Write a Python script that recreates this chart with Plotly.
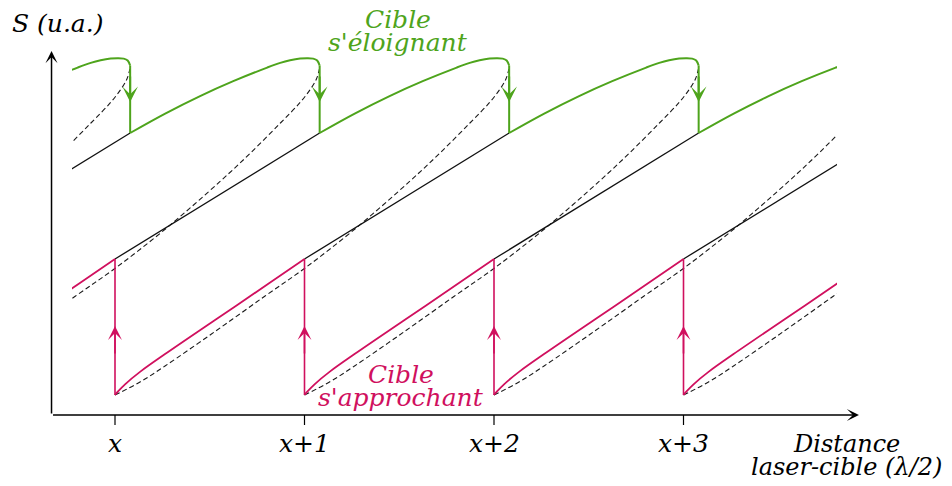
import plotly.graph_objects as go

# ===== DONNÉES =====
# graduations de l'axe des distances (unité : λ/2)
ticks = [0, 1, 2, 3]
tick_labels = ["x", "x+1", "x+2", "x+3"]
# départ de chaque branche (une par frange, y compris celles qui entrent par la gauche)
branch_starts = [-2, -1, 0, 1, 2, 3]
# décalage du saut vert (cible s'éloignant) après la graduation
green_shift = 0.08

# forme d'une branche, relative à son point de départ
pink_dx = [0, 0.016, 0.053, 0.132, 0.264, 0.528, 0.813, 1.0]
pink_y = [0.20, 0.236, 0.307, 0.431, 0.609, 0.95, 1.317, 1.56]

black_dx = [0, 1.08]
black_y = [1.56, 2.82]

green_dx = [0, 0.185, 0.369, 0.544, 0.723, 0.792, 0.844, 0.897, 0.934, 0.966, 0.987, 1.0]
green_y = [2.82, 3.014, 3.189, 3.338, 3.474, 3.521, 3.547, 3.564, 3.568, 3.564, 3.545, 3.495]

dash_dx = [0, 0.132, 0.264, 0.528, 0.792, 1.003, 1.266, 1.557, 1.715, 1.873,
           1.979, 2.032, 2.063, 2.079]
dash_y = [0.20, 0.33, 0.49, 0.835, 1.19, 1.47, 1.86, 2.34, 2.62, 2.92,
          3.13, 3.26, 3.36, 3.46]

GREEN = "#4ea41c"
PINK = "#d0105e"
FONT = "DejaVu Serif"


def chain(starts, dx, dy):
    xs, ys = [], []
    for s in starts:
        xs += [s + d for d in dx] + [None]
        ys += list(dy) + [None]
    return xs, ys


fig = go.Figure()

# ===== courbes (sous-graphe découpé entre les bords gauche/droit) =====
xd, yd = chain(branch_starts, dash_dx, dash_y)
fig.add_trace(go.Scatter(x=xd, y=yd, mode="lines", xaxis="x2", yaxis="y2",
                         line=dict(color="#1a1a1a", width=1.1, dash="5px,3px", shape="spline")))

xb, yb = chain(branch_starts[1:], black_dx, black_y)
fig.add_trace(go.Scatter(x=xb, y=yb, mode="lines", xaxis="x2", yaxis="y2",
                         line=dict(color="#111111", width=1.3)))

xp, yp = chain(branch_starts[1:], pink_dx, pink_y)
fig.add_trace(go.Scatter(x=xp, y=yp, mode="lines", xaxis="x2", yaxis="y2",
                         line=dict(color=PINK, width=1.8, shape="spline")))

xg, yg = chain([s + green_shift for s in branch_starts[1:]], green_dx, green_y)
fig.add_trace(go.Scatter(x=xg, y=yg, mode="lines", xaxis="x2", yaxis="y2",
                         line=dict(color=GREEN, width=2, shape="spline")))

# sauts verticaux
xj, yj = chain(ticks, [0, 0], [pink_y[0], pink_y[-1]])
fig.add_trace(go.Scatter(x=xj, y=yj, mode="lines", xaxis="x2", yaxis="y2",
                         line=dict(color=PINK, width=1.6)))
xj, yj = chain([t + green_shift for t in ticks], [0, 0], [green_y[-1], green_y[0]])
fig.add_trace(go.Scatter(x=xj, y=yj, mode="lines", xaxis="x2", yaxis="y2",
                         line=dict(color=GREEN, width=2)))

annotations = []
# pointes de flèche sur les sauts
for t in ticks:
    annotations.append(dict(x=t, y=0.89, ax=t, ay=0.6, xref="x", yref="y",
                            axref="x", ayref="y", text="", showarrow=True,
                            arrowhead=3, arrowsize=1.45, arrowwidth=1.6, arrowcolor=PINK))
    g = t + green_shift
    annotations.append(dict(x=g, y=3.13, ax=g, ay=3.4, xref="x", yref="y",
                            axref="x", ayref="y", text="", showarrow=True,
                            arrowhead=3, arrowsize=1.3, arrowwidth=2, arrowcolor=GREEN))

# axes avec flèches
x_origin = -0.335
annotations.append(dict(x=3.926, y=0, ax=x_origin, ay=0, xref="x", yref="y",
                        axref="x", ayref="y", text="", showarrow=True,
                        arrowhead=3, arrowsize=1.35, arrowwidth=1.5, arrowcolor="black"))
annotations.append(dict(x=x_origin, y=3.64, ax=x_origin, ay=0, xref="x", yref="y",
                        axref="x", ayref="y", text="", showarrow=True,
                        arrowhead=3, arrowsize=1.35, arrowwidth=1.5, arrowcolor="black"))

# graduations
shapes = [dict(type="line", x0=t, x1=t, y0=0, y1=-0.1, xref="x", yref="y",
               line=dict(color="black", width=1.2)) for t in ticks]
for t, lab in zip(ticks, tick_labels):
    annotations.append(dict(x=t, y=-0.285, text=f"<i>{lab}</i>", showarrow=False,
                            font=dict(family=FONT, size=25, color="black")))


# textes
def label(x, y, text, color, anchor="center", size=25):
    annotations.append(dict(x=x, y=y, text=f"<i>{text}</i>", showarrow=False,
                            xanchor=anchor, font=dict(family=FONT, size=size, color=color)))


label(-0.554, 3.92, "S (u.a.)", "black", "left")
label(1.496, 3.96, "Cible", GREEN)
label(1.491, 3.73, "s'éloignant", GREEN)
label(1.511, 0.41, "Cible", PINK)
label(1.508, 0.175, "s'approchant", PINK)
label(3.858, -0.285, "Distance", "black", size=24)
label(3.860, -0.515, "laser-cible (λ/2)", "black", size=24)

fig.update_layout(
    width=952, height=486,
    margin=dict(l=0, r=0, t=0, b=0),
    paper_bgcolor="white", plot_bgcolor="rgba(0,0,0,0)",
    showlegend=False,
    xaxis=dict(range=[-0.60686, 4.41689], domain=[0, 1], visible=False),
    yaxis=dict(range=[-0.71, 4.15], domain=[0, 1], visible=False),
    xaxis2=dict(range=[-0.22691, 3.81003], domain=[72 / 952, 837 / 952],
                anchor="y2", visible=False),
    yaxis2=dict(range=[-0.71, 4.15], domain=[0, 1], anchor="x2", visible=False),
    annotations=annotations,
    shapes=shapes,
)

fig.write_html("out.html", config={"displayModeBar": False},
               post_script="document.body.style.margin='0';")
